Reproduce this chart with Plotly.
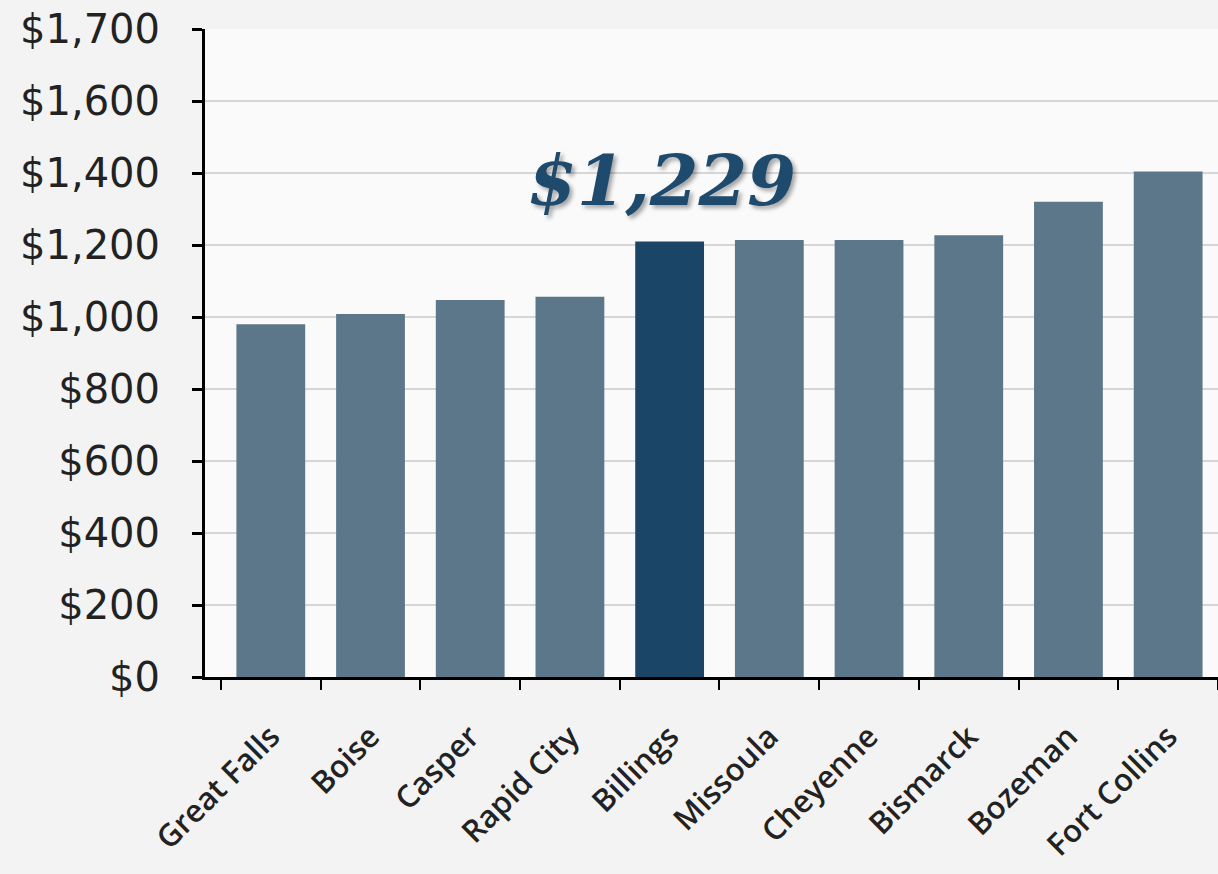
import plotly.graph_objects as go

cities = ["Great Falls", "Boise", "Casper", "Rapid City", "Billings",
          "Missoula", "Cheyenne", "Bismarck", "Bozeman", "Fort Collins"]
rents = [980, 1008, 1047, 1056, 1210, 1214, 1214, 1227, 1320, 1404]
highlight_city = "Billings"
highlight_label = "$1,229"
y_tick_vals = [0, 200, 400, 600, 800, 1000, 1200, 1400, 1600, 1800]
y_tick_text = ["$0", "$200", "$400", "$600", "$800", "$1,000", "$1,200",
               "$1,400", "$1,600", "$1,700"]

base_color = "#5b7789"
hi_color = "#1b4566"
colors = [hi_color if c == highlight_city else base_color for c in cities]

fig = go.Figure()
fig.add_trace(go.Bar(x=cities, y=rents, marker=dict(color=colors, line=dict(width=0)),
                     hoverinfo="x+y"))

fig.add_annotation(x=highlight_city, y=1380, xref="x", yref="y",
                   text=highlight_label, showarrow=False, xshift=-8,
                   font=dict(family="DejaVu Serif", size=70, color="#1e4a6e",
                             weight="bold", style="italic",
                             shadow="3px 3px 4px rgba(0,0,0,0.35)"))

fig.update_layout(
    width=1218, height=874,
    margin=dict(l=205, r=0, t=29, b=197),
    paper_bgcolor="#f3f3f3",
    plot_bgcolor="#fafafa",
    bargap=0.31,
    showlegend=False,
    font=dict(family="DejaVu Sans", color="#222222"),
)
fig.update_yaxes(range=[0, 1800], tickvals=y_tick_vals, ticktext=y_tick_text,
                 showgrid=True, gridcolor="#d6d6d6", gridwidth=2,
                 showline=True, linecolor="black", linewidth=3,
                 ticks="outside", ticklen=10, tickwidth=3, tickcolor="black",
                 ticklabelstandoff=24,
                 tickfont=dict(family="DejaVu Sans", size=40, color="#222222"),
                 zeroline=False, automargin=False, fixedrange=True)
fig.update_xaxes(range=[-0.66, 9.5], showline=True, linecolor="black", linewidth=3,
                 ticks="outside", ticklen=10, tickwidth=2, tickcolor="black",
                 tickson="boundaries", tickangle=-45, ticklabelstandoff=26,
                 tickfont=dict(family="Open Sans", size=31, color="#222222", weight=600),
                 showgrid=False, automargin=False, fixedrange=True)

fig.write_html("out.html", config={"displayModeBar": False},
               post_script="document.body.style.margin='0';")
